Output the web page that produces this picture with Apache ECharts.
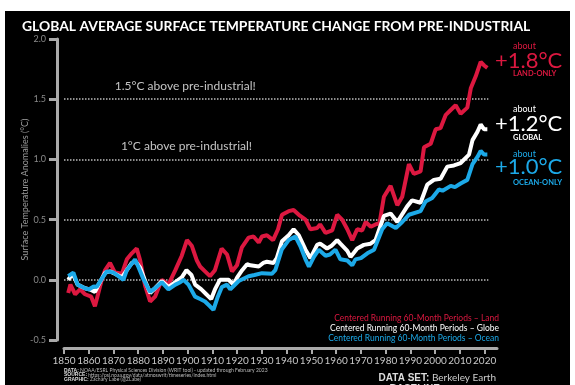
<!DOCTYPE html>
<html><head><meta charset="utf-8">
<script src="https://cdn.jsdelivr.net/npm/echarts@6/dist/echarts.min.js"></script>
<style>
html,body{margin:0;padding:0;background:#fff;}
#bg{position:absolute;left:5px;top:11px;width:565px;height:374px;background:#000;}
#c{position:absolute;left:0;top:0;width:575px;height:385px;}
</style>
</head><body><div id="bg"></div><div id="c"></div>
<script>
// ---- data (60-month centred running means) ----
const landYears = [1851.7,1852.6,1854.5,1856.5,1858.5,1861,1862.5,1863.5,1865,1866.6,1868.6,1870.6,1873.4,1875.4,1877.4,1879.4,1880.8,1882.8,1884.8,1886.8,1889.5,1892.2,1895,1897.6,1899.7,1901.7,1903.7,1905,1907,1909,1911,1913.7,1915.9,1917.9,1919.9,1921.9,1924.6,1926.6,1928.7,1930,1932,1934.5,1936.5,1938.1,1940.8,1942.8,1944.9,1947.6,1949.6,1952.3,1953.5,1955.7,1958.4,1960.4,1962.4,1964.5,1966.5,1968.5,1970.5,1971.9,1974,1975.9,1977.5,1979.3,1982,1984.7,1986.7,1989.4,1991.4,1994.1,1995.5,1998.2,2000.2,2002.2,2004.3,2006.3,2008.3,2010.3,2013,2014.4,2016.4,2018.4,2019.8,2021.1];
const landVals  = [-0.11,-0.04,-0.12,-0.08,-0.12,-0.14,-0.22,-0.14,-0.02,0.08,0.14,0.06,0.05,0.17,0.22,0.26,0.16,-0.05,-0.18,-0.14,0.0,-0.04,0.08,0.2,0.33,0.28,0.16,0.11,0.07,0.03,0.08,0.26,0.21,0.07,0.12,0.27,0.35,0.36,0.31,0.36,0.37,0.33,0.42,0.54,0.57,0.58,0.54,0.50,0.42,0.43,0.46,0.39,0.41,0.54,0.50,0.42,0.33,0.42,0.41,0.48,0.44,0.46,0.47,0.69,0.78,0.62,0.69,0.96,0.88,0.90,1.10,1.13,1.25,1.26,1.37,1.41,1.45,1.38,1.43,1.59,1.69,1.81,1.78,1.76];

const globeYears = [1851.7,1853.5,1855.5,1858.5,1860.5,1862.5,1864,1866.6,1868.6,1870.6,1873.4,1875.4,1877.4,1879,1880.8,1882.8,1884.8,1886.8,1889.5,1892.2,1895,1897.6,1899.5,1901.5,1903,1905.5,1907.5,1909.5,1911,1913,1916.5,1918.5,1920,1922,1924,1925.3,1928.7,1930.5,1932,1934.7,1936,1938.1,1940.8,1942.8,1944.9,1947.6,1949.6,1952.3,1953.5,1956.3,1958,1960.4,1961.7,1964.5,1965.8,1968.5,1971.2,1973.9,1975.9,1979.3,1982,1984.7,1988.7,1990.7,1994.1,1996.8,1999.5,2002.2,2004.9,2007.6,2010.3,2013.7,2015.1,2017.1,2018.4,2019.8,2021.1];
const globeVals  = [0.0,0.05,-0.04,-0.07,-0.08,-0.10,-0.04,0.06,0.07,0.05,0.02,0.08,0.14,0.15,0.10,-0.01,-0.11,-0.07,-0.01,-0.06,-0.02,0.02,0.08,0.04,-0.04,-0.08,-0.12,-0.16,-0.08,0.0,0.0,-0.04,0.02,0.08,0.13,0.12,0.11,0.14,0.15,0.14,0.18,0.32,0.37,0.42,0.37,0.25,0.18,0.29,0.30,0.26,0.28,0.33,0.30,0.24,0.19,0.26,0.29,0.30,0.33,0.53,0.55,0.48,0.61,0.66,0.64,0.79,0.83,0.84,0.94,0.95,0.97,1.04,1.16,1.23,1.29,1.25,1.25];

const oceanYears = [1851.7,1853.8,1855.5,1858.5,1860,1862,1863.2,1865.3,1867.3,1870,1872,1874,1875.4,1878.7,1880,1882,1884.8,1886.8,1889.5,1892.2,1895,1897,1898.3,1900.3,1903,1905,1907,1909,1910.4,1912,1913.8,1915.9,1917.2,1920.6,1924.6,1927,1930,1934,1935.4,1938,1940.8,1943.5,1945.5,1947.6,1949,1951,1953,1955.7,1957.5,1959.7,1961.7,1964.5,1966.5,1967.8,1970,1972.6,1975.3,1978.6,1980.6,1984.1,1986.7,1989.4,1994.1,1996.1,1998.8,2001.5,2003,2006.3,2008,2010.3,2013,2015.1,2017.1,2018.4,2019.8,2021.1];
const oceanVals  = [0.03,0.06,-0.04,-0.07,-0.08,-0.055,-0.06,0.01,0.07,0.06,0.03,0.0,0.08,0.17,0.11,0.01,-0.10,-0.07,-0.02,-0.08,-0.04,-0.02,0.0,-0.04,-0.14,-0.16,-0.18,-0.22,-0.25,-0.15,-0.06,-0.04,-0.08,-0.01,0.03,0.04,0.055,0.05,0.08,0.25,0.33,0.36,0.28,0.17,0.11,0.19,0.25,0.20,0.21,0.25,0.17,0.16,0.12,0.17,0.18,0.22,0.25,0.42,0.47,0.43,0.48,0.54,0.57,0.65,0.68,0.75,0.74,0.78,0.77,0.80,0.83,0.96,1.02,1.07,1.04,1.04];

const xTickYears = [1850,1860,1870,1880,1890,1900,1910,1920,1930,1940,1950,1960,1970,1980,1990,2000,2010,2020];
const refLevels = [0.0, 0.5, 1.0, 1.5];
const refNotes = [{v:1.5, text:'1.5°C above pre-industrial!', year:1899}, {v:1.0, text:'1°C above pre-industrial!', year:1899.5}];
const seriesNames = ['Centered Running 60-Month Periods – Land','Centered Running 60-Month Periods – Globe','Centered Running 60-Month Periods – Ocean'];

// ---- chart ----
const RED = '#dc1840', WHITE = '#ffffff', BLUE = '#1ca9e8';
const FONT = 'Lato, "Open Sans", sans-serif';
const pairs = (xs, ys) => xs.map((x, i) => [x, ys[i]]);

const chart = echarts.init(document.getElementById('c'), null, {renderer:'canvas'});

const markLines = refLevels.map(v => [
  {coord:[1850, v]}, {coord:[2021.5, v]}
]);
const markPts = refNotes.map(n => ({coord:[n.year, n.v], value:n.text}));

const option = {
  backgroundColor: 'transparent',
  animation: false,
  textStyle: {fontFamily: FONT},
  grid: {left: 64, right: 78, top: 39, bottom: 45},
  xAxis: {
    type: 'value', min: 1850, max: 2025, interval: 10,
    offset: 8,
    axisLine: {show: true, onZero: false, lineStyle: {color: '#aaaaaa', width: 3}},
    axisTick: {show: true, customValues: xTickYears, length: 6, lineStyle: {color: '#aaaaaa', width: 2}},
    axisLabel: {customValues: xTickYears, color: '#c8c8c8', fontSize: 10, margin: 8, fontFamily: FONT,
      formatter: v => String(v)},
    splitLine: {show: false}
  },
  yAxis: {
    type: 'value', min: -0.5, max: 2.0, interval: 0.5,
    offset: 7,
    name: 'Surface Temperature Anomalies (°C)',
    nameLocation: 'middle', nameGap: 27, nameRotate: 90, nameMoveOverlap: false,
    nameTextStyle: {color: '#9a9a9a', fontSize: 9, fontFamily: FONT},
    axisLine: {show: true, onZero: false, lineStyle: {color: '#aaaaaa', width: 3}},
    axisTick: {show: true, length: 8, lineStyle: {color: '#aaaaaa', width: 3}},
    axisLabel: {color: '#8a8a8a', fontSize: 9, margin: 11, fontFamily: FONT,
      formatter: v => v.toFixed(1)},
    splitLine: {show: false}
  },
  series: [
    {name: seriesNames[0], type: 'line', data: pairs(landYears, landVals), showSymbol: false,
     lineStyle: {color: RED, width: 4}, z: 2},
    {name: seriesNames[1], type: 'line', data: pairs(globeYears, globeVals), showSymbol: false,
     lineStyle: {color: WHITE, width: 4}, z: 3},
    {name: seriesNames[2], type: 'line', data: pairs(oceanYears, oceanVals), showSymbol: false,
     lineStyle: {color: BLUE, width: 4}, z: 4,
     markLine: {silent: true, symbol: ['none','none'], z: 1,
       lineStyle: {color: '#bdbdbd', type: 'dotted', width: 1.5}, label: {show: false},
       data: markLines},
     markPoint: {silent: true, symbol: 'circle', symbolSize: 0,
       label: {show: true, position: 'inside', offset: [0, -13], color: '#c4c4c4', fontSize: 12,
         fontFamily: FONT, formatter: p => p.value},
       data: markPts}
    }
  ],
  graphic: [
    {type: 'text', x: 22, y: 27, style: {text: 'GLOBAL AVERAGE SURFACE TEMPERATURE CHANGE FROM PRE-INDUSTRIAL',
      fill: '#ffffff', font: 'bold 13.9px ' + FONT, verticalAlign: 'middle'}},
    // right-hand annotations
    {type: 'text', x: 513, y: 46, style: {text: 'about', fill: RED, font: '9px ' + FONT, verticalAlign: 'middle'}},
    {type: 'text', x: 495, y: 61, style: {text: '+1.8°C', fill: RED, font: '22px ' + FONT, verticalAlign: 'middle'}},
    {type: 'text', x: 513, y: 74, style: {text: 'LAND-ONLY', fill: RED, font: 'bold 7.5px ' + FONT, verticalAlign: 'middle'}},
    {type: 'text', x: 513, y: 109, style: {text: 'about', fill: WHITE, font: '9px ' + FONT, verticalAlign: 'middle'}},
    {type: 'text', x: 495, y: 124, style: {text: '+1.2°C', fill: WHITE, font: '22px ' + FONT, verticalAlign: 'middle'}},
    {type: 'text', x: 513, y: 138, style: {text: 'GLOBAL', fill: WHITE, font: 'bold 7.5px ' + FONT, verticalAlign: 'middle'}},
    {type: 'text', x: 513, y: 154, style: {text: 'about', fill: BLUE, font: '9px ' + FONT, verticalAlign: 'middle'}},
    {type: 'text', x: 495, y: 167, style: {text: '+1.0°C', fill: BLUE, font: '22px ' + FONT, verticalAlign: 'middle'}},
    {type: 'text', x: 513, y: 183, style: {text: 'OCEAN-ONLY', fill: BLUE, font: 'bold 7.5px ' + FONT, verticalAlign: 'middle'}},
    // legend-style captions
    {type: 'text', x: 499, y: 318, style: {text: seriesNames[0], fill: RED, font: '8.5px ' + FONT, align: 'right', verticalAlign: 'middle'}},
    {type: 'text', x: 499, y: 328, style: {text: seriesNames[1], fill: WHITE, font: '8.5px ' + FONT, align: 'right', verticalAlign: 'middle'}},
    {type: 'text', x: 499, y: 338, style: {text: seriesNames[2], fill: BLUE, font: '8.5px ' + FONT, align: 'right', verticalAlign: 'middle'}},
    // footer
    {type: 'text', x: 64, y: 375, style: {
      text: '{b|DATA:} NOAA/ESRL Physical Sciences Division (WRIT tool) - updated through February 2023\n{b|SOURCE:} https://psl.noaa.gov/data/atmoswrit/timeseries/index.html\n{b|GRAPHIC:} Zachary Labe (@ZLabe)',
      fill: '#bbbbbb', font: '5px ' + FONT, lineHeight: 4.6, verticalAlign: 'middle',
      rich: {b: {fontWeight: 'bold', fontSize: 5, fill: '#dddddd', lineHeight: 4.6}}}},
    {type: 'text', x: 496, y: 378, style: {text: '{b|DATA SET:} Berkeley Earth', align: 'right', verticalAlign: 'middle',
      fill: '#cccccc', font: '10px ' + FONT, rich: {b: {fontWeight: 'bold', fontSize: 10, fill: '#dddddd'}}}},
    {type: 'text', x: 496, y: 389, style: {text: '{b|BASELINE:} 1850-1900', align: 'right', verticalAlign: 'middle',
      fill: '#cccccc', font: '10px ' + FONT, rich: {b: {fontWeight: 'bold', fontSize: 10, fill: '#dddddd'}}}}
  ]
};
chart.setOption(option);
</script></body></html>
